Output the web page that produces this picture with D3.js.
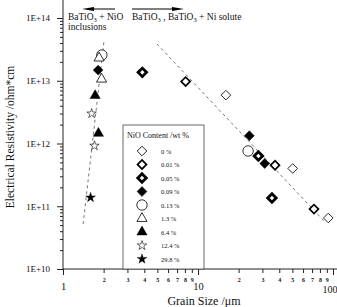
<!DOCTYPE html>
<html>
<head>
<meta charset="utf-8">
<script src="https://cdn.jsdelivr.net/npm/d3@7/dist/d3.min.js"></script>
<style>
  body { margin: 0; background: #fff; }
  svg { display: block; font-family: "Liberation Serif", "DejaVu Serif", serif; }
</style>
</head>
<body>
<div id="chart"></div>
<script>
"use strict";
// NiO content series (legend order)
const contents = ["0 %", "0.01 %", "0.05 %", "0.09 %", "0.13 %", "1.3 %", "6.4 %", "12.4 %", "29.8 %"];
// grain size (um) per series
const grainSize = [
    [16.1, 50.3, 92.3],
    [8.1, 37.2, 72.3],
    [3.87, 28.0, 35.3],
    [1.82, 24.0, 31.2],
    [1.94, 23.5],
    [1.85, 1.93],
    [1.73, 1.83],
    [1.63, 1.71],
    [1.60]
];
// resistivity (ohm*cm) per series
const resistivity = [
    [5.9e12, 4.0e11, 6.5e10],
    [9.7e12, 4.5e11, 9.0e10],
    [1.36e13, 6.3e11, 1.35e11],
    [1.48e13, 1.33e12, 4.8e11],
    [2.57e13, 7.6e11],
    [2.3e13, 1.06e13],
    [5.8e12, 1.45e12],
    [3.0e12, 9.2e11],
    [1.38e11]
];
// dashed guide lines
const trendLeftX = [1.41, 2.01];
const trendLeftY = [5.2e10, 4.2e13];
const trendRightX = [4.97, 87.3];
const trendRightY = [3.85e13, 5.6e10];

const yMajor = [1e10, 1e11, 1e12, 1e13, 1e14];
const xMajor = [1, 10, 100];

const width = 337, height = 307;
const svg = d3.select("#chart").append("svg")
    .attr("width", width)
    .attr("height", height);

const x = d3.scaleLog().domain([1, 100]).range([63, 333]);
const y = d3.scaleLog().domain([1e10, 1e14]).range([269, 18]);

// minor tick values
const yMinor = [];
for (let e = 10; e < 14; e++) for (let m = 2; m <= 9; m++) yMinor.push(m * Math.pow(10, e));
const xMinor = [];
for (let e = 0; e < 2; e++) for (let m = 2; m <= 9; m++) xMinor.push(m * Math.pow(10, e));

// y axis
const yAx = svg.append("g").attr("transform", "translate(63,0)");
yAx.call(d3.axisLeft(y).tickValues(yMajor).tickSize(6).tickPadding(7)
    .tickFormat(d => "1E+" + Math.round(Math.log10(d))));
yAx.append("g").call(d3.axisLeft(y).tickValues(yMinor).tickSize(3).tickFormat(""));
yAx.selectAll(".domain").remove();
yAx.selectAll("text").attr("font-size", 9).attr("font-family", "Liberation Serif").attr("fill", "#111");
yAx.selectAll("line").attr("stroke", "#222");
svg.append("line").attr("x1", 63).attr("x2", 63).attr("y1", 0).attr("y2", 269)
    .attr("stroke", "#222");

// x axis: major ticks and minor ticks in separate groups
const xMajG = svg.append("g").attr("transform", "translate(0,269)")
    .call(d3.axisBottom(x).tickValues(xMajor).tickSize(6).tickPadding(8).tickFormat(d3.format("d")));
const xMinG = svg.append("g").attr("transform", "translate(0,269)")
    .call(d3.axisBottom(x).tickValues(xMinor).tickSize(4).tickPadding(5)
        .tickFormat(d => String(d).charAt(0)));
[xMajG, xMinG].forEach(g => {
    g.selectAll(".domain").remove();
    g.selectAll("line").attr("stroke", "#222");
    g.selectAll("text").attr("font-family", "Liberation Serif").attr("fill", "#111");
});
xMajG.selectAll("text").attr("font-size", 10.5);
xMajG.selectAll(".tick").filter(d => d === 100).select("text")
    .attr("text-anchor", "end").attr("x", 4).attr("font-size", 10).attr("y", 17);
xMinG.selectAll("text").attr("font-size", 6).attr("font-weight", "bold");
svg.append("line").attr("x1", 63).attr("x2", width).attr("y1", 269).attr("y2", 269)
    .attr("stroke", "#222");

// axis titles
svg.append("text")
    .attr("transform", "translate(14,137) rotate(-90)")
    .attr("text-anchor", "middle")
    .attr("font-size", 11.5)
    .attr("fill", "#111")
    .text("Electrical Resistivity /ohm*cm");
svg.append("text")
    .attr("x", 204).attr("y", 305)
    .attr("text-anchor", "middle")
    .attr("font-size", 12)
    .attr("fill", "#111")
    .text("Grain Size /\u03bcm");

// dashed trend lines
const line = d3.line().x(d => x(d[0])).y(d => y(d[1]));
[[trendLeftX, trendLeftY], [trendRightX, trendRightY]].forEach(t => {
    svg.append("path")
        .attr("d", line(d3.zip(t[0], t[1])))
        .attr("fill", "none")
        .attr("stroke", "#555")
        .attr("stroke-width", 0.8)
        .attr("stroke-dasharray", "3,3");
});

// marker styles per series
const styles = [
    { type: d3.symbolSquare, size: 46, rot: 45, fill: "#fff", sw: 0.8 },
    { type: d3.symbolSquare, size: 40, rot: 45, fill: "#fff", sw: 1.7 },
    { type: d3.symbolSquare, size: 36, rot: 45, fill: "#fff", sw: 2.8 },
    { type: d3.symbolSquare, size: 48, rot: 45, fill: "#000", sw: 0.5 },
    { type: d3.symbolCircle, size: 85, rot: 0, fill: "#fff", sw: 0.8 },
    { type: d3.symbolTriangle, size: 45, rot: 0, fill: "#fff", sw: 0.8 },
    { type: d3.symbolTriangle, size: 45, rot: 0, fill: "#000", sw: 0.5 },
    { type: d3.symbolStar, size: 28, rot: 0, fill: "#fff", sw: 0.6 },
    { type: d3.symbolStar, size: 30, rot: 0, fill: "#000", sw: 0.4 }
];

function drawSymbol(g, s, cx, cy) {
    g.append("path")
        .attr("d", d3.symbol().type(s.type).size(s.size)())
        .attr("transform", `translate(${cx},${cy}) rotate(${s.rot})`)
        .attr("fill", s.fill)
        .attr("stroke", "#000")
        .attr("stroke-width", s.sw);
}

// legend
const lg = svg.append("g");
lg.append("rect")
    .attr("x", 123).attr("y", 125).attr("width", 81).attr("height", 144)
    .attr("fill", "#fff").attr("stroke", "#444").attr("stroke-width", 0.8);
lg.append("text").attr("x", 127).attr("y", 138)
    .attr("font-size", 8).attr("fill", "#111").text("NiO Content /wt %");
contents.forEach((c, i) => {
    const cy = 151 + i * 13.5;
    drawSymbol(lg, styles[i], 142, cy);
    lg.append("text").attr("x", 161).attr("y", cy + 2.5)
        .attr("font-size", 6.5).attr("fill", "#111").text(c);
});

// data points
const pts = svg.append("g");
contents.forEach((c, i) => {
    grainSize[i].forEach((g, j) => {
        drawSymbol(pts, styles[i], x(g), y(resistivity[i][j]));
    });
});

// annotations
function arrow(x1, x2, yy) {
    const dir = Math.sign(x2 - x1);
    svg.append("line").attr("x1", x1).attr("x2", x2 - dir * 8).attr("y1", yy).attr("y2", yy)
        .attr("stroke", "#000").attr("stroke-width", 1);
    svg.append("path")
        .attr("d", `M${x2},${yy} L${x2 - dir * 12},${yy - 2} L${x2 - dir * 12},${yy + 2} Z`)
        .attr("fill", "#000");
}
arrow(115, 82, 9);
arrow(132, 184, 9);

function chem(xx, yy, parts) {
    const t = svg.append("text").attr("x", xx).attr("y", yy)
        .attr("font-size", 9.5).attr("fill", "#111");
    parts.forEach(p => {
        if (p[1]) t.append("tspan").attr("font-size", 6.5).attr("dy", 2).text(p[0]);
        else t.append("tspan").attr("dy", p[2] || 0).text(p[0]);
    });
}
chem(68, 20, [["BaTiO"], ["3", true], [" + NiO", false, -2]]);
svg.append("text").attr("x", 68).attr("y", 30)
    .attr("font-size", 9.5).attr("fill", "#111").text("inclusions");
chem(132, 20, [["BaTiO"], ["3", true], [" , BaTiO", false, -2], ["3", true], [" + Ni solute", false, -2]]);
</script>
</body>
</html>
